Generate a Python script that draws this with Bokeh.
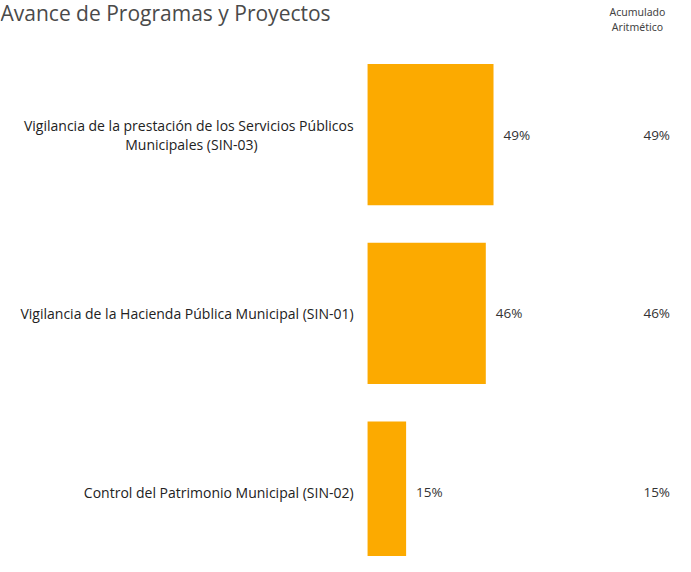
from bokeh.plotting import figure
from bokeh.models import Range1d, ColumnDataSource
from bokeh.core.properties import value
from bokeh.embed import file_html
from bokeh.resources import INLINE

# Data (top to bottom)
categories = [
    "Vigilancia de la prestación de los Servicios Públicos\nMunicipales (SIN-03)",
    "Vigilancia de la Hacienda Pública Municipal (SIN-01)",
    "Control del Patrimonio Municipal (SIN-02)",
]
avance = [49, 46, 15]
acumulado = [49, 46, 15]
title_text = "Avance de Programas y Proyectos"
header_text = "Acumulado\nAritmético"

W, H = 675, 556
x_start, x_end = -142.8, 119.8
y_top, y_bottom = -0.75, 2.36
FONT = "Open Sans"

p = figure(width=W, height=H, output_backend="svg", toolbar_location=None,
           x_range=Range1d(x_start, x_end), y_range=Range1d(y_bottom, y_top),
           min_border=0, outline_line_color=None, tools="")
p.axis.visible = False
p.grid.visible = False
p.background_fill_color = "white"

ypos = list(range(len(categories)))
src = ColumnDataSource(dict(
    y=ypos, v=avance, acc=acumulado,
    vlab=[f"{v}%" for v in avance],
    alab=[f"{a}%" for a in acumulado],
    zero=[0] * len(ypos),
    colx=[112.5] * len(ypos),
))

p.hbar(y="y", left="zero", right="v", height=0.79, source=src,
       fill_color="#FCAA00", line_color=None)

# value labels next to bars
p.text(x="v", y="y", text="vlab", source=src, x_offset=10,
       text_align="left", text_baseline="middle",
       text_font=value(FONT), text_font_size="13.5px", text_color="#333333")

# accumulated column
p.text(x="colx", y="y", text="alab", source=src,
       text_align="center", text_baseline="middle",
       text_font=value(FONT), text_font_size="13.5px", text_color="#333333")

# category labels
single = [i for i, c in enumerate(categories) if "\n" not in c]
multi = [i for i, c in enumerate(categories) if "\n" in c]
p.text(x=[0] * len(single), y=[ypos[i] for i in single],
       text=[categories[i] for i in single], x_offset=-14,
       text_align="right", text_baseline="middle",
       text_font=value(FONT), text_font_size="14px", text_color="#222222")
for i in multi:
    lines = categories[i].split("\n")
    p.text(x=[0], y=[ypos[i]], text=[lines[0]], x_offset=-14, y_offset=-9.5,
           text_align="right", text_baseline="middle",
           text_font=value(FONT), text_font_size="14px", text_color="#222222")
    p.text(x=[-68.5], y=[ypos[i]], text=[lines[1]], y_offset=9.5,
           text_align="center", text_baseline="middle",
           text_font=value(FONT), text_font_size="14px", text_color="#222222")

# title
p.text(x=[x_start], y=[y_top], text=[title_text], x_offset=0, y_offset=-2,
       text_align="left", text_baseline="top",
       text_font=value(FONT), text_font_size="21px", text_color="#4a4a4a")

# header of right column
p.text(x=[105], y=[y_top], text=[header_text], y_offset=4,
       text_align="center", text_baseline="top", text_line_height=1.1,
       text_font=value("Noto Sans"), text_font_size="10.5px", text_color="#444444")

open("out.html", "w").write(file_html(p, INLINE))
